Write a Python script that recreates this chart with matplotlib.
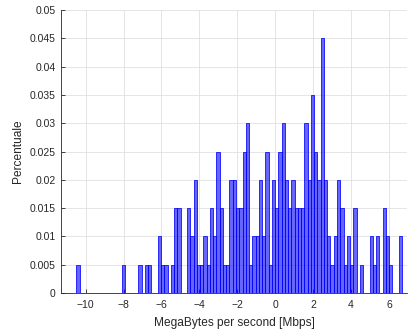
import numpy as np
import matplotlib
matplotlib.use("Agg")
import matplotlib.pyplot as plt

plt.rcParams['font.family'] = ['Liberation Sans', 'DejaVu Sans']

# histogram: 100 equal bins between the data extremes, probability per bin
bin_lo = -10.486
bin_hi = 6.696
n_bins = 100
prob = [0.005, 0, 0, 0, 0, 0, 0, 0, 0, 0,
        0, 0, 0, 0, 0.005, 0, 0, 0, 0, 0.005,
        0, 0.005, 0.005, 0, 0, 0.010, 0.005, 0.005, 0, 0.005,
        0.015, 0.015, 0, 0, 0.015, 0.010, 0.020, 0.005, 0.005, 0.010,
        0.005, 0.015, 0.010, 0.025, 0.015, 0.005, 0.005, 0.020, 0.020, 0.015,
        0.015, 0.025, 0.030, 0.005, 0.010, 0.010, 0.020, 0.010, 0.025, 0.005,
        0.020, 0.015, 0.025, 0.030, 0.020, 0.015, 0.020, 0.015, 0.015, 0.015,
        0.030, 0.020, 0.035, 0.025, 0.020, 0.045, 0.020, 0.010, 0.005, 0.010,
        0.020, 0.015, 0.005, 0.010, 0.005, 0.015, 0, 0.005, 0, 0,
        0.010, 0.005, 0.010, 0, 0.015, 0.010, 0.005, 0, 0, 0.010]

xticks = [-10, -8, -6, -4, -2, 0, 2, 4, 6]
yticks = [0, 0.005, 0.01, 0.015, 0.02, 0.025, 0.03, 0.035, 0.04, 0.045, 0.05]
ytick_labels = ['0', '0.005', '0.01', '0.015', '0.02', '0.025', '0.03',
                '0.035', '0.04', '0.045', '0.05']

edges = np.linspace(bin_lo, bin_hi, n_bins + 1)
width = edges[1] - edges[0]

fig = plt.figure(figsize=(4.09, 3.36), dpi=100)
ax = fig.add_axes([0.149, 0.128, 0.846, 0.842])

ax.bar(edges[:-1], prob, width=width, align='edge',
       facecolor=(0, 0, 1, 0.6), edgecolor=(0, 0, 1, 0.9),
       linewidth=0.6, zorder=3)

ax.set_xlim(-11.3, 6.95)
ax.set_ylim(0, 0.05)
ax.set_xticks(xticks)
ax.set_yticks(yticks)
ax.set_yticklabels(ytick_labels)

dark = '#262626'
ax.grid(True, color='#e0e0e0', linewidth=0.6, zorder=0)
ax.set_axisbelow(True)
for side in ['top', 'right']:
    ax.spines[side].set_visible(False)
for side in ['left', 'bottom']:
    ax.spines[side].set_color(dark)
    ax.spines[side].set_linewidth(0.6)
ax.tick_params(direction='in', length=3, width=0.6, colors=dark,
               labelsize=7.5, pad=4)
ax.tick_params(axis='x', pad=5)

ax.set_xlabel('MegaBytes per second [Mbps]', fontsize=8.6, color=dark,
              labelpad=5)
ax.set_ylabel('Percentuale', fontsize=8.6, color=dark)

fig.savefig('out.png', dpi=100)
